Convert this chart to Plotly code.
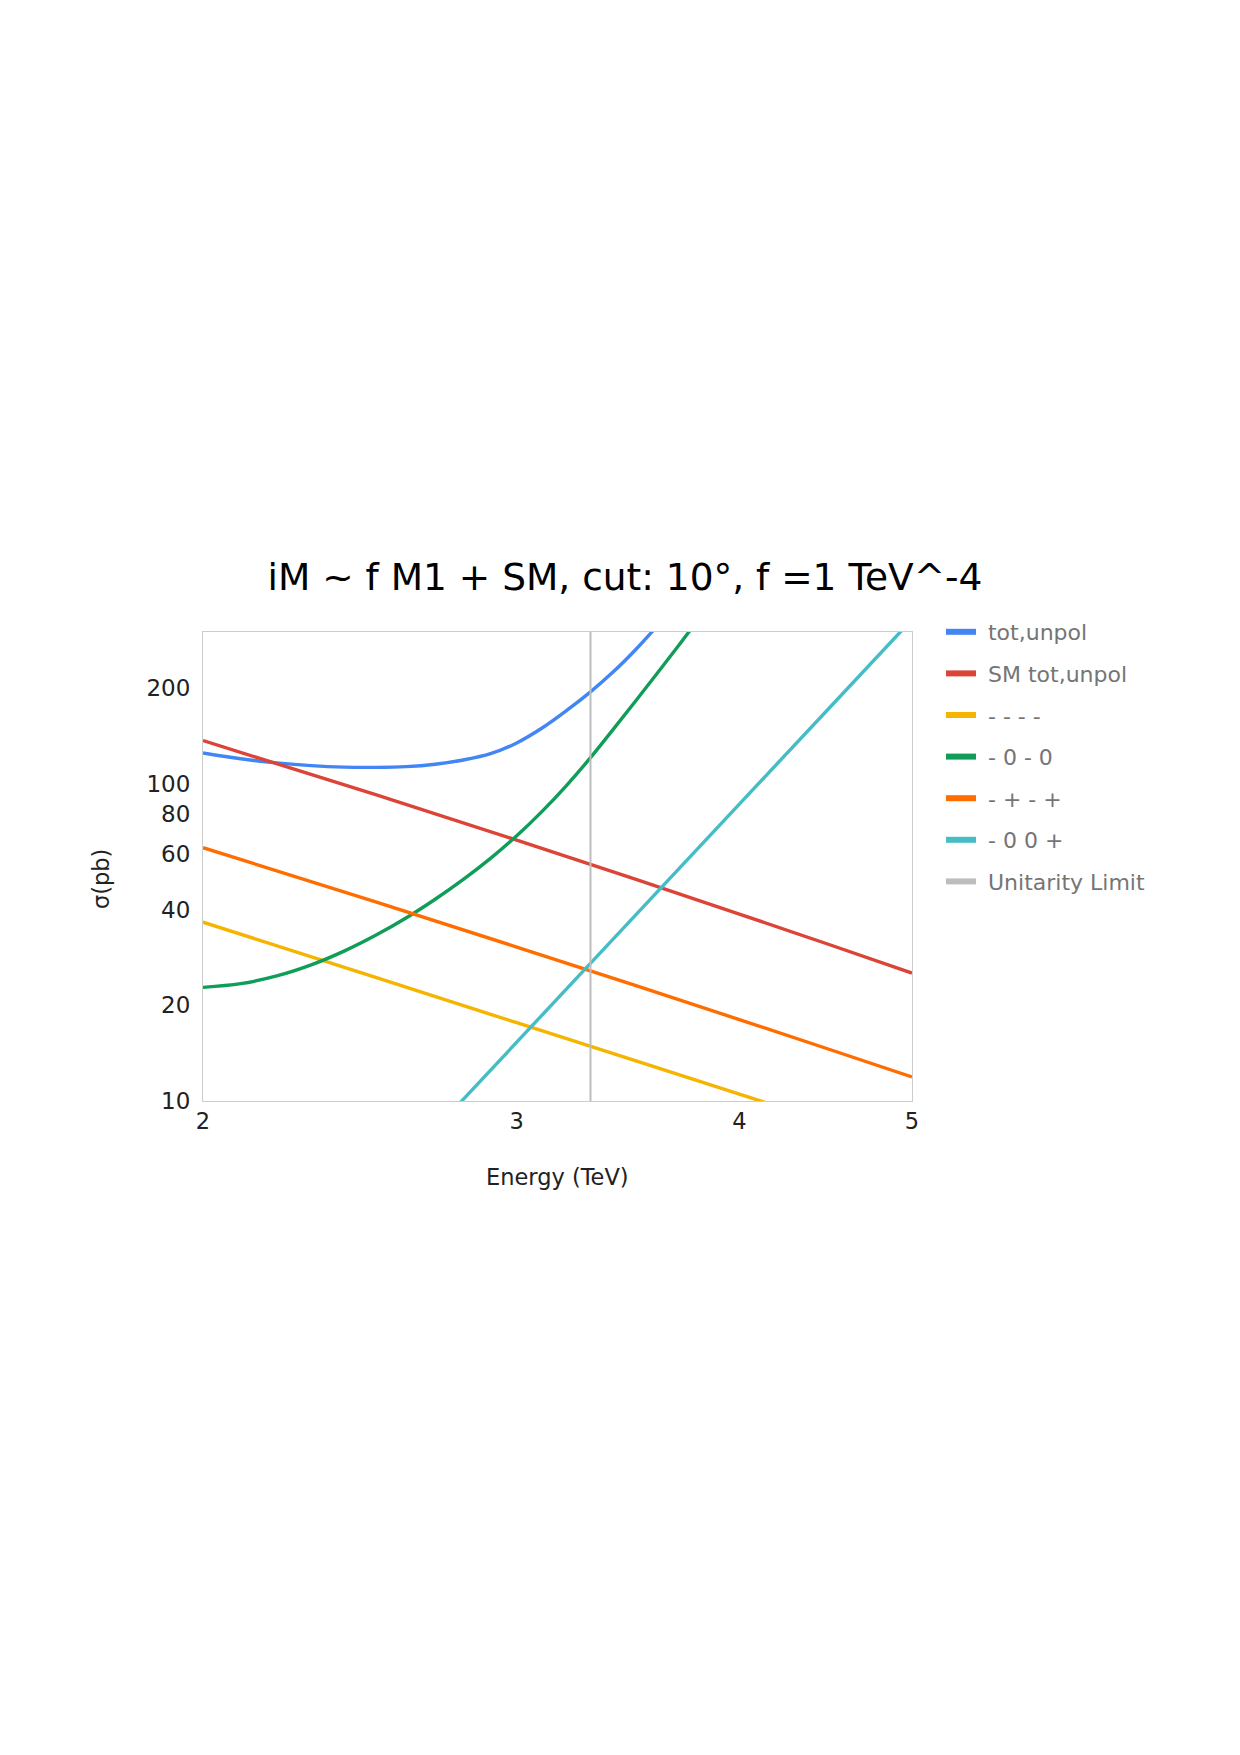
import plotly.graph_objects as go
import math

# ---- data ----
# curved series, sampled every 0.1 TeV
energy_curves = [2.0, 2.1, 2.2, 2.3, 2.4, 2.5, 2.6, 2.7, 2.8, 2.9, 3.0, 3.1, 3.2, 3.3, 3.4, 3.5, 3.6, 3.7, 3.8]
tot_unpol = [124.7, 119.6, 116.1, 113.8, 112.6, 112.4, 113.0, 115.0, 118.6, 124.1, 134.2, 149.5, 169.8, 194.4, 225.1, 264.7, 315.2, 378.6, 456.4]
m0m0 = [22.8, 23.42, 24.76, 26.83, 29.65, 33.25, 37.70, 43.19, 49.86, 58.08, 68.45, 81.71, 98.71, 120.6, 148.6, 182.5, 223.6, 273.1, 332.7]

# near-straight series, sampled every 0.5 TeV
energy_lines = [2.0, 2.5, 3.0, 3.5, 4.0, 4.5, 5.0]
sm_tot_unpol = [136.5, 92.2, 66.3, 49.9, 38.8, 31.0, 25.29]
mmmm = [36.6, 24.49, 17.64, 13.37, 10.51, 8.50, 7.03]
mpmp = [62.8, 42.35, 30.54, 23.07, 18.05, 14.50, 11.90]
m00p = [None, 5.13, 15.32, 38.64, 86.10, 174.5, 328.4]

unitarity_limit = 3.3
y_span = [10, 300]

series_names = ["tot,unpol", "SM tot,unpol", "- - - -", "- 0 - 0", "- + - +", "- 0 0 +"]
series_x = [energy_curves, energy_lines, energy_lines, energy_curves, energy_lines, energy_lines]
series_values = [tot_unpol, sm_tot_unpol, mmmm, m0m0, mpmp, m00p]
colors = ["#4285F4", "#DB4437", "#F4B400", "#0F9D58", "#FF6D00", "#46BDC6"]
unit_color = "#BDBDBD"
unit_name = "Unitarity Limit"

x_ticks = [2, 3, 4, 5]
y_ticks = [10, 20, 40, 60, 80, 100, 200]

FONT = "DejaVu Sans"
W, H = 1240, 1755
L, R, T, B = 203, 912, 632, 1101

fig = go.Figure()
for name, xs, vals, col in zip(series_names, series_x, series_values, colors):
    fig.add_trace(go.Scatter(x=xs, y=vals, mode="lines", name=name,
                             line=dict(color=col, width=3.4, shape="spline", smoothing=1.0),
                             showlegend=False, hoverinfo="skip"))
fig.add_trace(go.Scatter(x=[unitarity_limit, unitarity_limit], y=y_span, mode="lines",
                         name=unit_name, line=dict(color=unit_color, width=2),
                         showlegend=False, hoverinfo="skip"))

# legend entries (thicker swatches)
for i, (name, col) in enumerate(zip(series_names + [unit_name], colors + [unit_color])):
    fig.add_trace(go.Scatter(x=[None], y=[None], mode="lines", name="\u00a0" + name,
                             legendgroup="g%d" % i,
                             line=dict(color=col, width=6)))

def px_x(p):
    return (p - L) / (R - L)

def px_y(p):
    return (B - p) / (B - T)

fig.update_layout(
    width=W, height=H,
    margin=dict(l=L, r=W - R, t=T, b=H - B),
    paper_bgcolor="white", plot_bgcolor="white",
    font=dict(family=FONT, size=22, color="#222222"),
    title=dict(text="iM ~ f M1 + SM, cut: 10°, f =1 TeV^-4",
               x=625 / W, xanchor="center", y=1 - 577 / H, yanchor="middle",
               font=dict(family=FONT, size=37.5, color="#000000")),
    showlegend=True,
    legend=dict(x=px_x(941), xanchor="left", y=px_y(611), yanchor="top",
                font=dict(family=FONT, size=22, color="#757575"),
                tracegroupgap=10, bgcolor="rgba(0,0,0,0)"),
    xaxis=dict(type="log", range=[math.log10(2), math.log10(5)],
               tickvals=x_ticks, ticktext=[str(v) for v in x_ticks],
               showgrid=False, zeroline=False, showline=True, mirror=True,
               linecolor="#cccccc", linewidth=1, ticks="",
               tickfont=dict(family=FONT, size=22.5, color="#222222")),
    yaxis=dict(type="log", range=[1, math.log10(300)],
               tickvals=y_ticks, ticktext=[str(v) for v in y_ticks],
               showgrid=False, zeroline=False, showline=True, mirror=True,
               linecolor="#cccccc", linewidth=1, ticks="",
               ticklabelstandoff=7,
               tickfont=dict(family=FONT, size=23, color="#222222")),
    annotations=[
        dict(text="Energy (TeV)", xref="paper", yref="paper",
             x=0.5, y=px_y(1177), xanchor="center", yanchor="middle",
             showarrow=False, font=dict(family=FONT, size=22.5, color="#222222")),
        dict(text="σ(pb)", xref="paper", yref="paper", textangle=-90,
             x=px_x(101), y=px_y(879), xanchor="center", yanchor="middle",
             showarrow=False, font=dict(family=FONT, size=22.5, color="#222222")),
    ],
)

fig.write_html("out.html")
